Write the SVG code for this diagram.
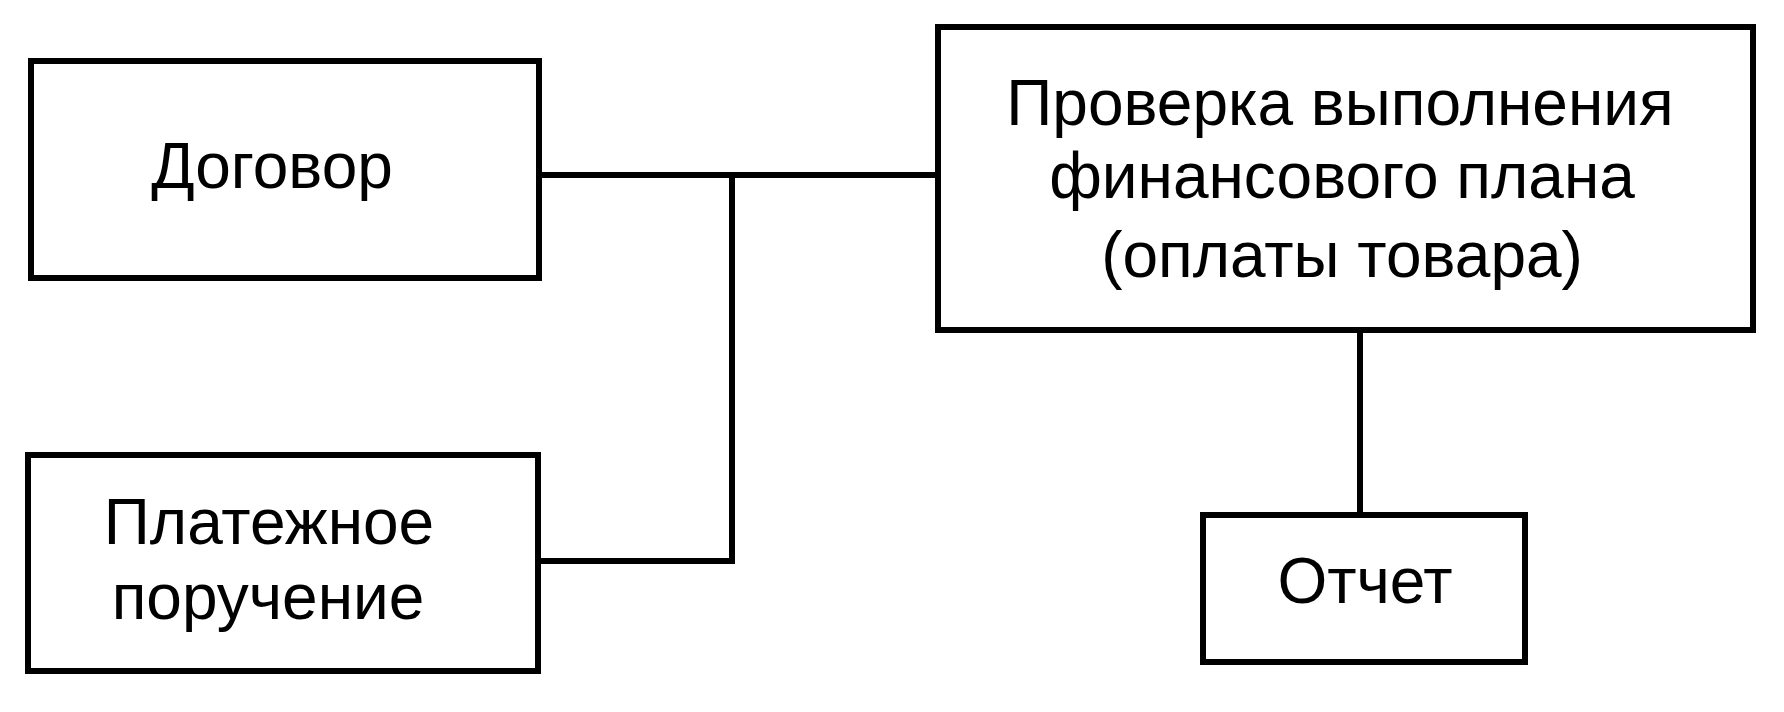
<svg xmlns="http://www.w3.org/2000/svg" width="1784" height="712" viewBox="0 0 1784 712">
<style>
.box{fill:#fff;stroke:#000;stroke-width:6}
.conn{fill:none;stroke:#000;stroke-width:6}
.lbl{font-family:"Liberation Sans",Arial,sans-serif;font-size:64px;fill:#000;text-anchor:middle}
</style>
<rect width="1784" height="712" fill="#fff"/>
<g id="connectors">
<path class="conn" d="M540 175 H938"/>
<path class="conn" d="M732 175 V561 H538"/>
<path class="conn" d="M1360 330 V515"/>
</g>
<g id="node-dogovor">
<rect class="box" x="31" y="61" width="508" height="217"/>
<text class="lbl" x="272" y="188">Договор</text>
</g>
<g id="node-plat">
<rect class="box" x="28" y="455" width="510" height="216"/>
<text class="lbl" x="269" y="544">Платежное</text>
<text class="lbl" x="268" y="619">поручение</text>
</g>
<g id="node-proverka">
<rect class="box" x="938" y="27" width="815" height="303"/>
<text class="lbl" x="1340" y="125">Проверка выполнения</text>
<text class="lbl" x="1342" y="198">финансового плана</text>
<text class="lbl" x="1342" y="277">(оплаты товара)</text>
</g>
<g id="node-otchet">
<rect class="box" x="1203" y="515" width="322" height="147"/>
<text class="lbl" x="1365" y="603">Отчет</text>
</g>
</svg>
